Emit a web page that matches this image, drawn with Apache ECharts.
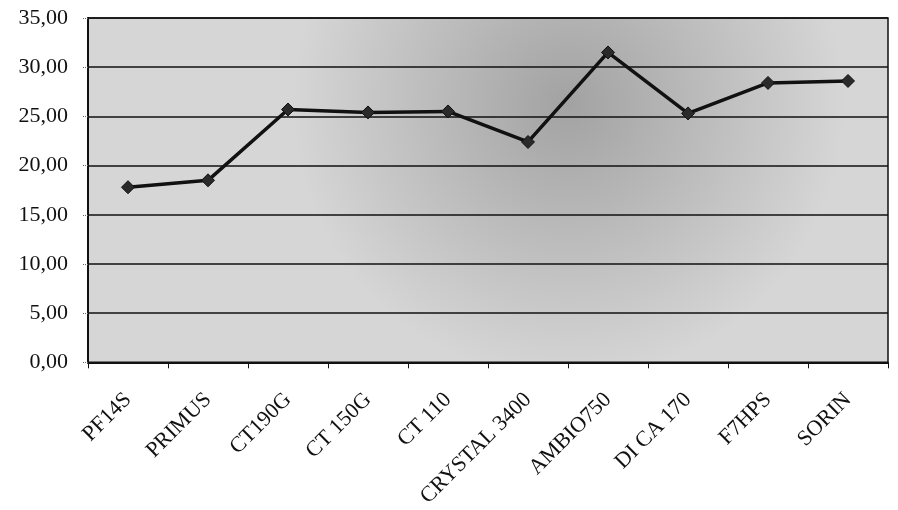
<!DOCTYPE html>
<html>
<head>
<meta charset="utf-8">
<script src="https://cdn.jsdelivr.net/npm/echarts@6/dist/echarts.min.js"></script>
<style>html,body{margin:0;padding:0;background:#fff;}#c{width:898px;height:510px;}</style>
</head>
<body>
<div id="c"></div>
<script>
const categories = ['PF14S','PRIMUS','CT190G','CT 150G','CT 110','CRYSTAL 3400','AMBIO750','DI CA 170','F7HPS','SORIN'];
const values = [17.8, 18.5, 25.7, 25.4, 25.5, 22.4, 31.5, 25.3, 28.4, 28.6];
const yMin = 0, yMax = 35, yStep = 5;

const chart = echarts.init(document.getElementById('c'));
chart.setOption({
  animation: false,
  backgroundColor: '#ffffff',
  grid: {
    left: 88, right: 10, top: 18, bottom: 145,
    show: true,
    borderColor: '#111', borderWidth: 1.5,
    backgroundColor: new echarts.graphic.RadialGradient(0.6, 0.25, 0.8, [
      {offset: 0, color: '#a2a2a2'},
      {offset: 0.5, color: '#bcbcbc'},
      {offset: 1, color: '#d6d6d6'}
    ])
  },
  xAxis: {
    type: 'category',
    data: categories,
    boundaryGap: true,
    axisLine: {lineStyle: {color: '#111', width: 2}},
    axisTick: {show: true, length: 6, lineStyle: {color: '#111', width: 1}},
    axisLabel: {
      rotate: 45, margin: 34, color: '#111',
      fontFamily: 'Liberation Serif', fontSize: 22
    }
  },
  yAxis: {
    type: 'value',
    min: yMin, max: yMax, interval: yStep,
    axisLine: {show: true, lineStyle: {color: '#111', width: 2}},
    axisTick: {show: true, length: 5, lineStyle: {color: '#666', width: 1, type: 'dotted'}},
    splitLine: {show: true, lineStyle: {color: '#111', width: 1.5}},
    axisLabel: {
      margin: 20, color: '#111',
      fontFamily: 'Liberation Serif', fontSize: 22,
      formatter: v => v.toFixed(2).replace('.', ',')
    }
  },
  series: [{
    type: 'line',
    data: values,
    symbol: 'diamond',
    symbolSize: 13,
    itemStyle: {color: '#2a2a2a', borderColor: '#111', borderWidth: 1},
    lineStyle: {color: '#111', width: 3.5}
  }]
});
</script>
</body>
</html>
